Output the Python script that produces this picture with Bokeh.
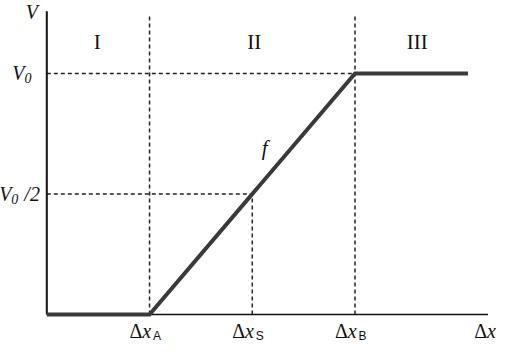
from bokeh.plotting import figure
from bokeh.models import Range1d
from bokeh.core.properties import value
from bokeh.embed import file_html
from bokeh.resources import INLINE

# ---- data ----
f_x = [0.0, 1.0, 3.0, 4.1]          # piecewise-linear f (in units of Δx)
f_y = [0.0, 0.0, 1.0, 1.0]          # V / V0
tick_x = [1.0, 2.0, 3.0]            # ΔxA, ΔxS, ΔxB
tick_sub = ["A", "S", "B"]
level_y = [1.0, 0.5]                # V0, V0/2
region_labels = ["I", "II", "III"]
region_x = [0.49, 2.02, 3.605]
x_axis_end = 4.295
y_axis_top = 1.258
guide_top = 1.242

# reference-pixel scale (px per data unit) and figure mapping
RX, RY = 104.3, 248.0
sx, sy = 0.985, 0.972
XS, YS = RX * sx, RY * sy
X0 = 1 + sx * 46.0
Y0 = 3 + sy * 320.0

W, H = 498, 344
p = figure(width=W, height=H, output_backend="svg", toolbar_location=None,
           x_range=Range1d(-X0 / XS, (W - X0) / XS),
           y_range=Range1d((Y0 - H) / YS, Y0 / YS),
           min_border=0, outline_line_color=None)
p.axis.visible = False
p.grid.visible = False
p.background_fill_color = "white"

def px(d):
    return d / RX

def py(d):
    return d / RY

SERIF = value("Liberation Serif")
SANS = value("Liberation Sans")
DASH = "4 3"
DCOL = "#222222"
TCOL = "#111111"

# dashed guide lines
p.segment(x0=[tick_x[0], tick_x[2]], y0=[0, 0],
          x1=[tick_x[0], tick_x[2]], y1=[guide_top, guide_top],
          line_color=DCOL, line_width=1.5, line_dash=DASH)
p.segment(x0=[tick_x[1]], y0=[0], x1=[tick_x[1]], y1=[level_y[1]],
          line_color=DCOL, line_width=1.5, line_dash=DASH)
p.segment(x0=[0, 0], y0=level_y, x1=[tick_x[2], tick_x[1]], y1=level_y,
          line_color=DCOL, line_width=1.5, line_dash=DASH)

# axes
p.segment(x0=[0], y0=[0], x1=[0], y1=[y_axis_top], line_color="#111111", line_width=2)
p.segment(x0=[0], y0=[0], x1=[x_axis_end], y1=[0], line_color="#111111", line_width=1.5)

# function
p.line(f_x, f_y, line_color="#3a3a3a", line_width=4, line_join="miter")

def txt(x, y, s, size="20px", style="normal", align="left", baseline="middle", font=SERIF):
    p.text(x=x, y=y, text=s, text_font=font, text_font_style=style,
           text_font_size=size, text_align=align, text_baseline=baseline,
           text_color=TCOL)

# y labels
txt([-px(9)], [Y0 / YS - py(0.5)], ["V"], style="italic", align="right", baseline="top")
txt([-px(22.7)], [level_y[0]], ["V"], style="italic", align="right")
txt([-px(22.7)], [level_y[0] - py(4.8)], ["0"], size="14px", style="italic")
txt([-px(36)], [level_y[1]], ["V"], style="italic", align="right")
txt([-px(36)], [level_y[1] - py(4.8)], ["0"], size="14px", style="italic")
txt([-px(7)], [level_y[1]], ["/2"], style="italic", align="right")

# region labels
txt(region_x, [1.129] * 3, region_labels, size="21px", align="center")

# f label
txt([2.12], [0.69], ["f"], size="21px", style="italic", align="center")

# x tick labels
base = -py(17.25)
sub_base = -py(21.8)
txt([t - px(7.3) for t in tick_x], [base] * 3, ["Δ"] * 3, align="right")
txt([t - px(7.3) for t in tick_x], [base] * 3, ["x"] * 3, style="italic")
txt([t + px(3.5) for t in tick_x], [sub_base] * 3, tick_sub, size="12px", font=SANS)
txt([x_axis_end - px(1)], [base], ["Δ"], align="right")
txt([x_axis_end - px(1)], [base], ["x"], style="italic")

open("out.html", "w").write(file_html(p, INLINE))
